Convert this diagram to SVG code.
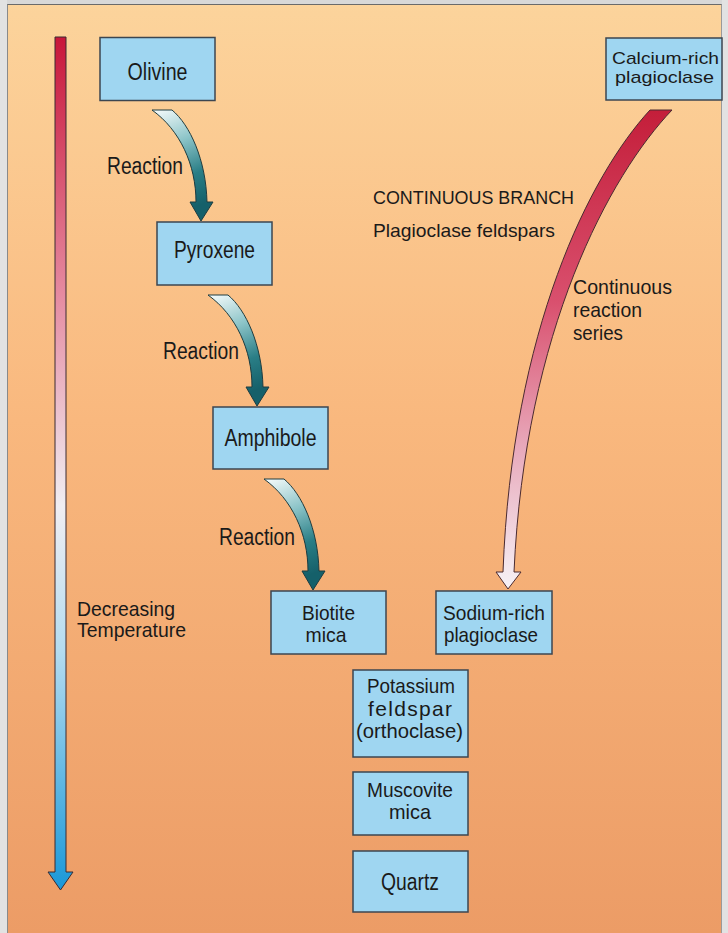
<svg xmlns="http://www.w3.org/2000/svg" width="728" height="933" viewBox="0 0 728 933">
<defs>
<linearGradient id="bg" x1="0" y1="0" x2="0" y2="1">
<stop offset="0" stop-color="#fcd49c"/>
<stop offset="0.45" stop-color="#f9b87e"/>
<stop offset="1" stop-color="#ec9c66"/>
</linearGradient>
<linearGradient id="temp" gradientUnits="userSpaceOnUse" x1="0" y1="37" x2="0" y2="890">
<stop offset="0" stop-color="#c8163a"/>
<stop offset="0.3" stop-color="#e58aa0"/>
<stop offset="0.55" stop-color="#f0eef2"/>
<stop offset="0.72" stop-color="#b4dcf0"/>
<stop offset="1" stop-color="#1a98d8"/>
</linearGradient>
<linearGradient id="react" gradientUnits="userSpaceOnUse" x1="160" y1="110" x2="200" y2="205">
<stop offset="0" stop-color="#f0f8f8"/>
<stop offset="0.35" stop-color="#8cc4c8"/>
<stop offset="0.7" stop-color="#2a7e86"/>
<stop offset="1" stop-color="#15606a"/>
</linearGradient>
<linearGradient id="cont" gradientUnits="userSpaceOnUse" x1="0" y1="110" x2="0" y2="589">
<stop offset="0" stop-color="#c41e3a"/>
<stop offset="0.4" stop-color="#d9506e"/>
<stop offset="0.7" stop-color="#e8a8ba"/>
<stop offset="1" stop-color="#f6f2f6"/>
</linearGradient>
<path id="rarrow" d="M152,110 L172,110 C190,125 206,160 207,202 L213,202 L201,221 L190,202 L196,202 C196,165 180,130 152,110 Z"/>
</defs>
<style>
.box{fill:#9fd6f1;stroke:#3c4650;stroke-width:1.5}
.t{font-family:"Liberation Sans",Arial,sans-serif;fill:#1a1a1a}
.c{text-anchor:middle}
.b1{font-size:23px}
.b2{font-size:21px}
.b3{font-size:17px}
.lab{font-size:19px}
.ra{fill:url(#react);stroke:#1e3c40;stroke-width:1}
</style>
<rect x="0" y="0" width="728" height="933" fill="url(#bg)"/>
<rect x="0" y="0" width="728" height="4.5" fill="#d8d8d8"/>
<rect x="0" y="0" width="7" height="933" fill="#e2e2e2"/>
<rect x="722" y="0" width="6" height="933" fill="#e2e2e2"/>
<line x1="7" y1="4.5" x2="722" y2="4.5" stroke="#6a6a6a" stroke-width="1"/>
<line x1="7.5" y1="4.5" x2="7.5" y2="933" stroke="#8a8a8a" stroke-width="1"/>
<line x1="721.5" y1="4.5" x2="721.5" y2="933" stroke="#9a9a9a" stroke-width="1"/>

<g id="temperature">
<path d="M55,37 L66,37 L66,872 L73,872 L60.5,890 L48,872 L55,872 Z" fill="url(#temp)" stroke="#3a2a30" stroke-width="1"/>
<text class="t b2" x="77" y="616" textLength="98" lengthAdjust="spacingAndGlyphs">Decreasing</text>
<text class="t b2" x="77" y="637" textLength="109" lengthAdjust="spacingAndGlyphs">Temperature</text>
</g>

<g id="connectors">
<use href="#rarrow" class="ra"/>
<use href="#rarrow" class="ra" transform="translate(56,185)"/>
<use href="#rarrow" class="ra" transform="translate(112,369)"/>
<path d="M650,110 L672,110 C610,175 525,330 514,572 L521,572 L508,589 L496,572 L503,572 C512,330 590,175 650,110 Z" fill="url(#cont)" stroke="#4a2a30" stroke-width="1"/>
<text class="t b1" x="107" y="174" textLength="76" lengthAdjust="spacingAndGlyphs">Reaction</text>
<text class="t b1" x="163" y="359" textLength="76" lengthAdjust="spacingAndGlyphs">Reaction</text>
<text class="t b1" x="219" y="545" textLength="76" lengthAdjust="spacingAndGlyphs">Reaction</text>
<text class="t b2" x="573" y="294" textLength="99" lengthAdjust="spacingAndGlyphs">Continuous</text>
<text class="t b2" x="573" y="317" textLength="69" lengthAdjust="spacingAndGlyphs">reaction</text>
<text class="t b2" x="573" y="340" textLength="50" lengthAdjust="spacingAndGlyphs">series</text>
</g>

<g id="branch-label">
<text class="t lab" x="373" y="204" textLength="201" lengthAdjust="spacingAndGlyphs">CONTINUOUS BRANCH</text>
<text class="t lab" x="373" y="237" textLength="182" lengthAdjust="spacingAndGlyphs">Plagioclase feldspars</text>
</g>

<g id="olivine">
<rect class="box" x="100" y="37.5" width="115" height="63"/>
<text class="t b1 c" x="157.5" y="80" textLength="60" lengthAdjust="spacingAndGlyphs">Olivine</text>
</g>
<g id="pyroxene">
<rect class="box" x="157" y="222" width="115" height="63"/>
<text class="t b1 c" x="214.5" y="258" textLength="81" lengthAdjust="spacingAndGlyphs">Pyroxene</text>
</g>
<g id="amphibole">
<rect class="box" x="213" y="407" width="115" height="62"/>
<text class="t b1 c" x="270.5" y="446" textLength="92" lengthAdjust="spacingAndGlyphs">Amphibole</text>
</g>
<g id="biotite">
<rect class="box" x="271" y="591" width="115" height="63"/>
<text class="t b2 c" x="328.5" y="620" textLength="53" lengthAdjust="spacingAndGlyphs">Biotite</text>
<text class="t b2 c" x="326" y="642" textLength="41" lengthAdjust="spacingAndGlyphs">mica</text>
</g>
<g id="calcium">
<rect class="box" x="606" y="38" width="116" height="62"/>
<text class="t b3 c" x="665.5" y="64" textLength="107" lengthAdjust="spacingAndGlyphs">Calcium-rich</text>
<text class="t b3 c" x="664.5" y="83" textLength="99" lengthAdjust="spacingAndGlyphs">plagioclase</text>
</g>
<g id="sodium">
<rect class="box" x="436" y="591" width="116" height="63"/>
<text class="t b2 c" x="494" y="620" textLength="102" lengthAdjust="spacingAndGlyphs">Sodium-rich</text>
<text class="t b2 c" x="491" y="642" textLength="94" lengthAdjust="spacingAndGlyphs">plagioclase</text>
</g>
<g id="potassium">
<rect class="box" x="353" y="670" width="115" height="87"/>
<text class="t b2 c" x="411" y="693" textLength="88" lengthAdjust="spacingAndGlyphs">Potassium</text>
<text class="t b2 c" x="410" y="716" textLength="84" lengthAdjust="spacing">feldspar</text>
<text class="t b2 c" x="409.5" y="738" textLength="107" lengthAdjust="spacingAndGlyphs">(orthoclase)</text>
</g>
<g id="muscovite">
<rect class="box" x="353" y="772" width="115" height="63"/>
<text class="t b2 c" x="410" y="797" textLength="86" lengthAdjust="spacingAndGlyphs">Muscovite</text>
<text class="t b2 c" x="410" y="819" textLength="42" lengthAdjust="spacingAndGlyphs">mica</text>
</g>
<g id="quartz">
<rect class="box" x="353" y="851" width="115" height="61"/>
<text class="t b1 c" x="410" y="890" textLength="58" lengthAdjust="spacingAndGlyphs">Quartz</text>
</g>
</svg>
